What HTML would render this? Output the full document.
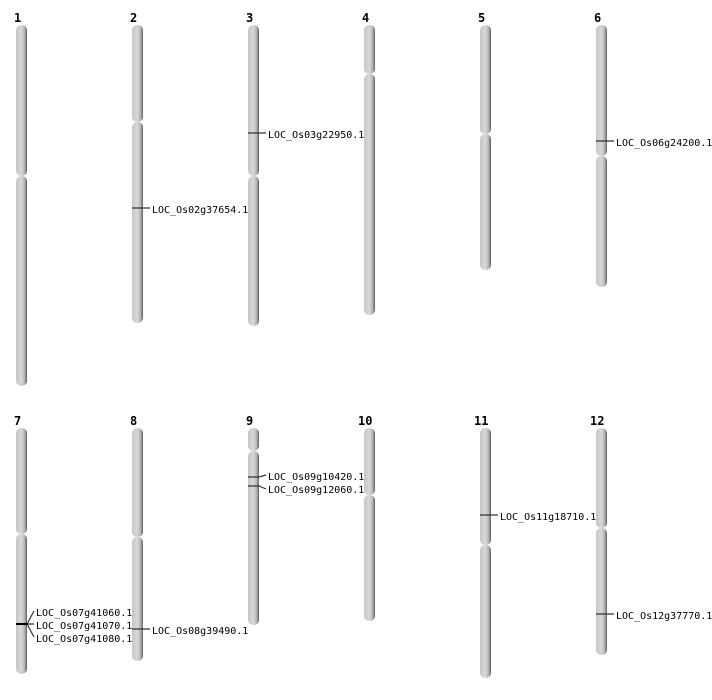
<!DOCTYPE html><html><head><meta charset="utf-8"><style>body{margin:0;background:#fff}svg{display:block}text{font-family:"DejaVu Sans Mono","Liberation Mono",monospace;font-size:10px;fill:#000}.n{font-weight:bold;font-size:12px}</style></head><body>
<svg width="712" height="700" xmlns="http://www.w3.org/2000/svg">
<defs><linearGradient id="g" x1="0" x2="1" y1="0" y2="0"><stop offset="0" stop-color="#c6c6c6"/><stop offset="0.5" stop-color="#d8d8d8"/><stop offset="0.8" stop-color="#b0b0b0"/><stop offset="1" stop-color="#5a5a5a"/></linearGradient></defs>
<g fill="url(#g)">
<rect x="16" y="25" width="11" height="151" rx="5"/><rect x="16" y="176" width="11" height="210" rx="5"/>
<rect x="132" y="25" width="11" height="97" rx="5"/><rect x="132" y="122" width="11" height="201" rx="5"/>
<rect x="248" y="25" width="11" height="151" rx="5"/><rect x="248" y="176" width="11" height="150" rx="5"/>
<rect x="364" y="25" width="11" height="49" rx="5"/><rect x="364" y="74" width="11" height="241" rx="5"/>
<rect x="480" y="25" width="11" height="109" rx="5"/><rect x="480" y="134" width="11" height="136" rx="5"/>
<rect x="596" y="25" width="11" height="131" rx="5"/><rect x="596" y="156" width="11" height="131" rx="5"/>
<rect x="16" y="428" width="11" height="106" rx="5"/><rect x="16" y="534" width="11" height="140" rx="5"/>
<rect x="132" y="428" width="11" height="109" rx="5"/><rect x="132" y="537" width="11" height="124" rx="5"/>
<rect x="248" y="428" width="11" height="23" rx="5"/><rect x="248" y="451" width="11" height="174" rx="5"/>
<rect x="364" y="428" width="11" height="67" rx="5"/><rect x="364" y="495" width="11" height="126" rx="5"/>
<rect x="480" y="428" width="11" height="117" rx="5"/><rect x="480" y="545" width="11" height="133" rx="5"/>
<rect x="596" y="428" width="11" height="100" rx="5"/><rect x="596" y="528" width="11" height="127" rx="5"/>
</g>
<g class="n">
<text class="n" x="14" y="22">1</text><text class="n" x="130" y="22">2</text><text class="n" x="246" y="22">3</text><text class="n" x="362" y="22">4</text><text class="n" x="478" y="22">5</text><text class="n" x="594" y="22">6</text>
<text class="n" x="14" y="425">7</text><text class="n" x="130" y="425">8</text><text class="n" x="246" y="425">9</text><text class="n" x="358" y="425">10</text><text class="n" x="474" y="425">11</text><text class="n" x="590" y="425">12</text>
</g>
<g stroke="#333" stroke-width="1.2" fill="none">
<path d="M132 208H150"/><path d="M248 133H266"/><path d="M596 141H614"/>
<path d="M16 624H27M27 624L34 611M27 624H34M27 624L34 637"/>
<path d="M132 629H150"/>
<path d="M248 477H259L266 475M248 486H259L266 489"/>
<path d="M480 515H498"/><path d="M596 614H614"/>
</g>
<path d="M16 624H27" stroke="#000" stroke-width="2"/>
<text x="152" y="213">LOC_Os02g37654.1</text>
<text x="268" y="138">LOC_Os03g22950.1</text>
<text x="616" y="146">LOC_Os06g24200.1</text>
<text x="36" y="616">LOC_Os07g41060.1</text>
<text x="36" y="629">LOC_Os07g41070.1</text>
<text x="36" y="642">LOC_Os07g41080.1</text>
<text x="152" y="634">LOC_Os08g39490.1</text>
<text x="268" y="480">LOC_Os09g10420.1</text>
<text x="268" y="493">LOC_Os09g12060.1</text>
<text x="500" y="520">LOC_Os11g18710.1</text>
<text x="616" y="619">LOC_Os12g37770.1</text>
</svg></body></html>
